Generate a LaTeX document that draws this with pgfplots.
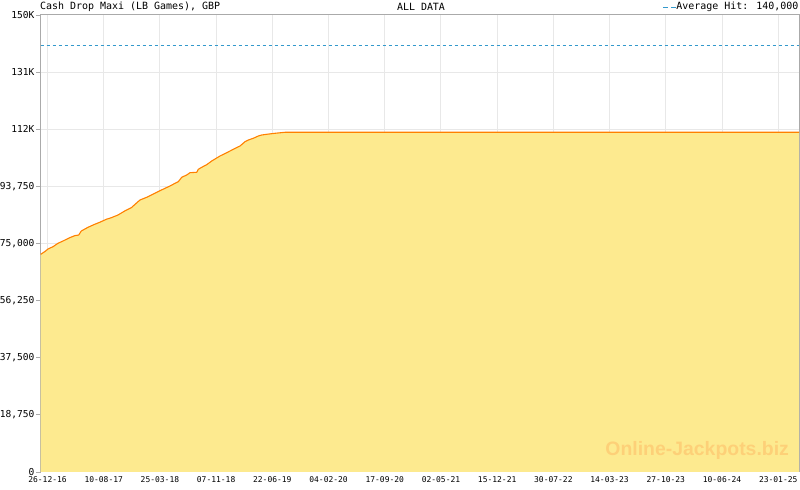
\documentclass[border=0pt]{standalone}
\usepackage{pgfplots}
\pgfplotsset{compat=1.18}
\usepackage{fontspec}
\setmainfont{DejaVu Sans Mono}
\newfontfamily\wmfont{Liberation Sans}
\definecolor{fillY}{RGB}{253,234,143}
\definecolor{lineO}{RGB}{255,128,0}
\definecolor{gridG}{RGB}{232,232,232}
\definecolor{axG}{RGB}{170,170,170}
\definecolor{avgB}{RGB}{51,153,204}
\definecolor{wmO}{RGB}{253,208,120}
\begin{document}
\begin{tikzpicture}[x=1bp,y=1bp]
\useasboundingbox (0,0) rectangle (800,490);
\begin{axis}[
  at={(40.5bp,18bp)}, anchor=south west,
  scale only axis, width=758.5bp, height=457bp,
  xmin=-28.3, xmax=3035, ymin=0, ymax=150000,
  axis line style={draw=axG, line width=1bp},
  tick style={draw=axG, line width=0.8bp},
  major tick length=4.5bp, minor tick length=2.5bp,
  xtick align=inside, ytick align=outside,
  tick pos=left,
  xtick={0,227,454,681,908,1135,1362,1589,1816,2043,2270,2497,2724,2951},
  xticklabels={26-12-16,10-08-17,25-03-18,07-11-18,22-06-19,04-02-20,17-09-20,02-05-21,15-12-21,30-07-22,14-03-23,27-10-23,10-06-24,23-01-25},
  minor x tick num=6,
  ytick={0,18750,37500,56250,75000,93750,112500,131250,150000},
  yticklabels={\raisebox{1bp}{0},{18,750},{37,500},{56,250},{75,000},{93,750},112K,131K,150K},
  scaled y ticks=false,
  xticklabel style={font=\fontsize{8}{8}\selectfont, inner sep=0pt, yshift=-4.5bp, anchor=north},
  yticklabel style={font=\fontsize{9.6}{9.6}\selectfont, inner sep=0pt, xshift=-1.5bp, anchor=east},
  xmajorgrids, ymajorgrids,
  major grid style={draw=gridG, line width=1bp},
]
\addplot[draw=none, fill=fillY] coordinates {
(-28.3,71400) (-11.3,72309) (2.0,73195) (22.2,73950) (42.4,75066) (62.6,75821)
(89.7,76904) (109.9,77561) (126.0,77790) (136.5,79103) (163.6,80318) (190.6,81303)
(210.8,81959) (237.5,82944) (257.7,83470) (284.7,84355) (311.8,85668) (338.5,86752)
(365.5,88722) (373.6,89279) (400.7,90165) (427.3,91248) (454.4,92331) (474.6,93119)
(494.8,93874) (515.0,94760) (528.3,95285) (542.0,96729) (562.2,97484) (575.6,98239)
(602.6,98371) (609.1,99355) (622.8,100012) (643.0,100866) (663.2,102080) (696.7,103721)
(723.8,104805) (750.5,105921) (777.5,107003) (797.7,108414) (811.0,108972) (831.2,109530)
(851.4,110285) (865.2,110614) (885.4,110843) (918.9,111171) (959.3,111500) (3035,111500)
} \closedcycle;
\addplot[draw=lineO, line width=1.1bp] coordinates {
(-28.3,71400) (-11.3,72309) (2.0,73195) (22.2,73950) (42.4,75066) (62.6,75821)
(89.7,76904) (109.9,77561) (126.0,77790) (136.5,79103) (163.6,80318) (190.6,81303)
(210.8,81959) (237.5,82944) (257.7,83470) (284.7,84355) (311.8,85668) (338.5,86752)
(365.5,88722) (373.6,89279) (400.7,90165) (427.3,91248) (454.4,92331) (474.6,93119)
(494.8,93874) (515.0,94760) (528.3,95285) (542.0,96729) (562.2,97484) (575.6,98239)
(602.6,98371) (609.1,99355) (622.8,100012) (643.0,100866) (663.2,102080) (696.7,103721)
(723.8,104805) (750.5,105921) (777.5,107003) (797.7,108414) (811.0,108972) (831.2,109530)
(851.4,110285) (865.2,110614) (885.4,110843) (918.9,111171) (959.3,111500) (3035,111500)
};
\addplot[draw=avgB, line width=1bp, dash pattern=on 3bp off 3bp] coordinates {(-28.3,140000) (3035,140000)};
\node[anchor=south east, inner sep=0pt, text=wmO, font=\wmfont\bfseries\fontsize{19.5}{19.5}\selectfont] at (axis cs:2995,4000) {Online-Jackpots.biz};
\end{axis}
\node[anchor=west, inner sep=0pt, font=\fontsize{10}{10}\selectfont] at (40,483) {Cash Drop Maxi (LB Games), GBP};
\node[inner sep=0pt, font=\fontsize{10}{10}\selectfont] at (421,483) {ALL DATA};
\node[anchor=east, inner sep=0pt, font=\fontsize{10}{10}\selectfont] at (798.5,483) {Average Hit: 140,000};
\draw[avgB, line width=1bp] (663,482.5) -- (668,482.5) (671,482.5) -- (676,482.5);
\end{tikzpicture}
\end{document}
